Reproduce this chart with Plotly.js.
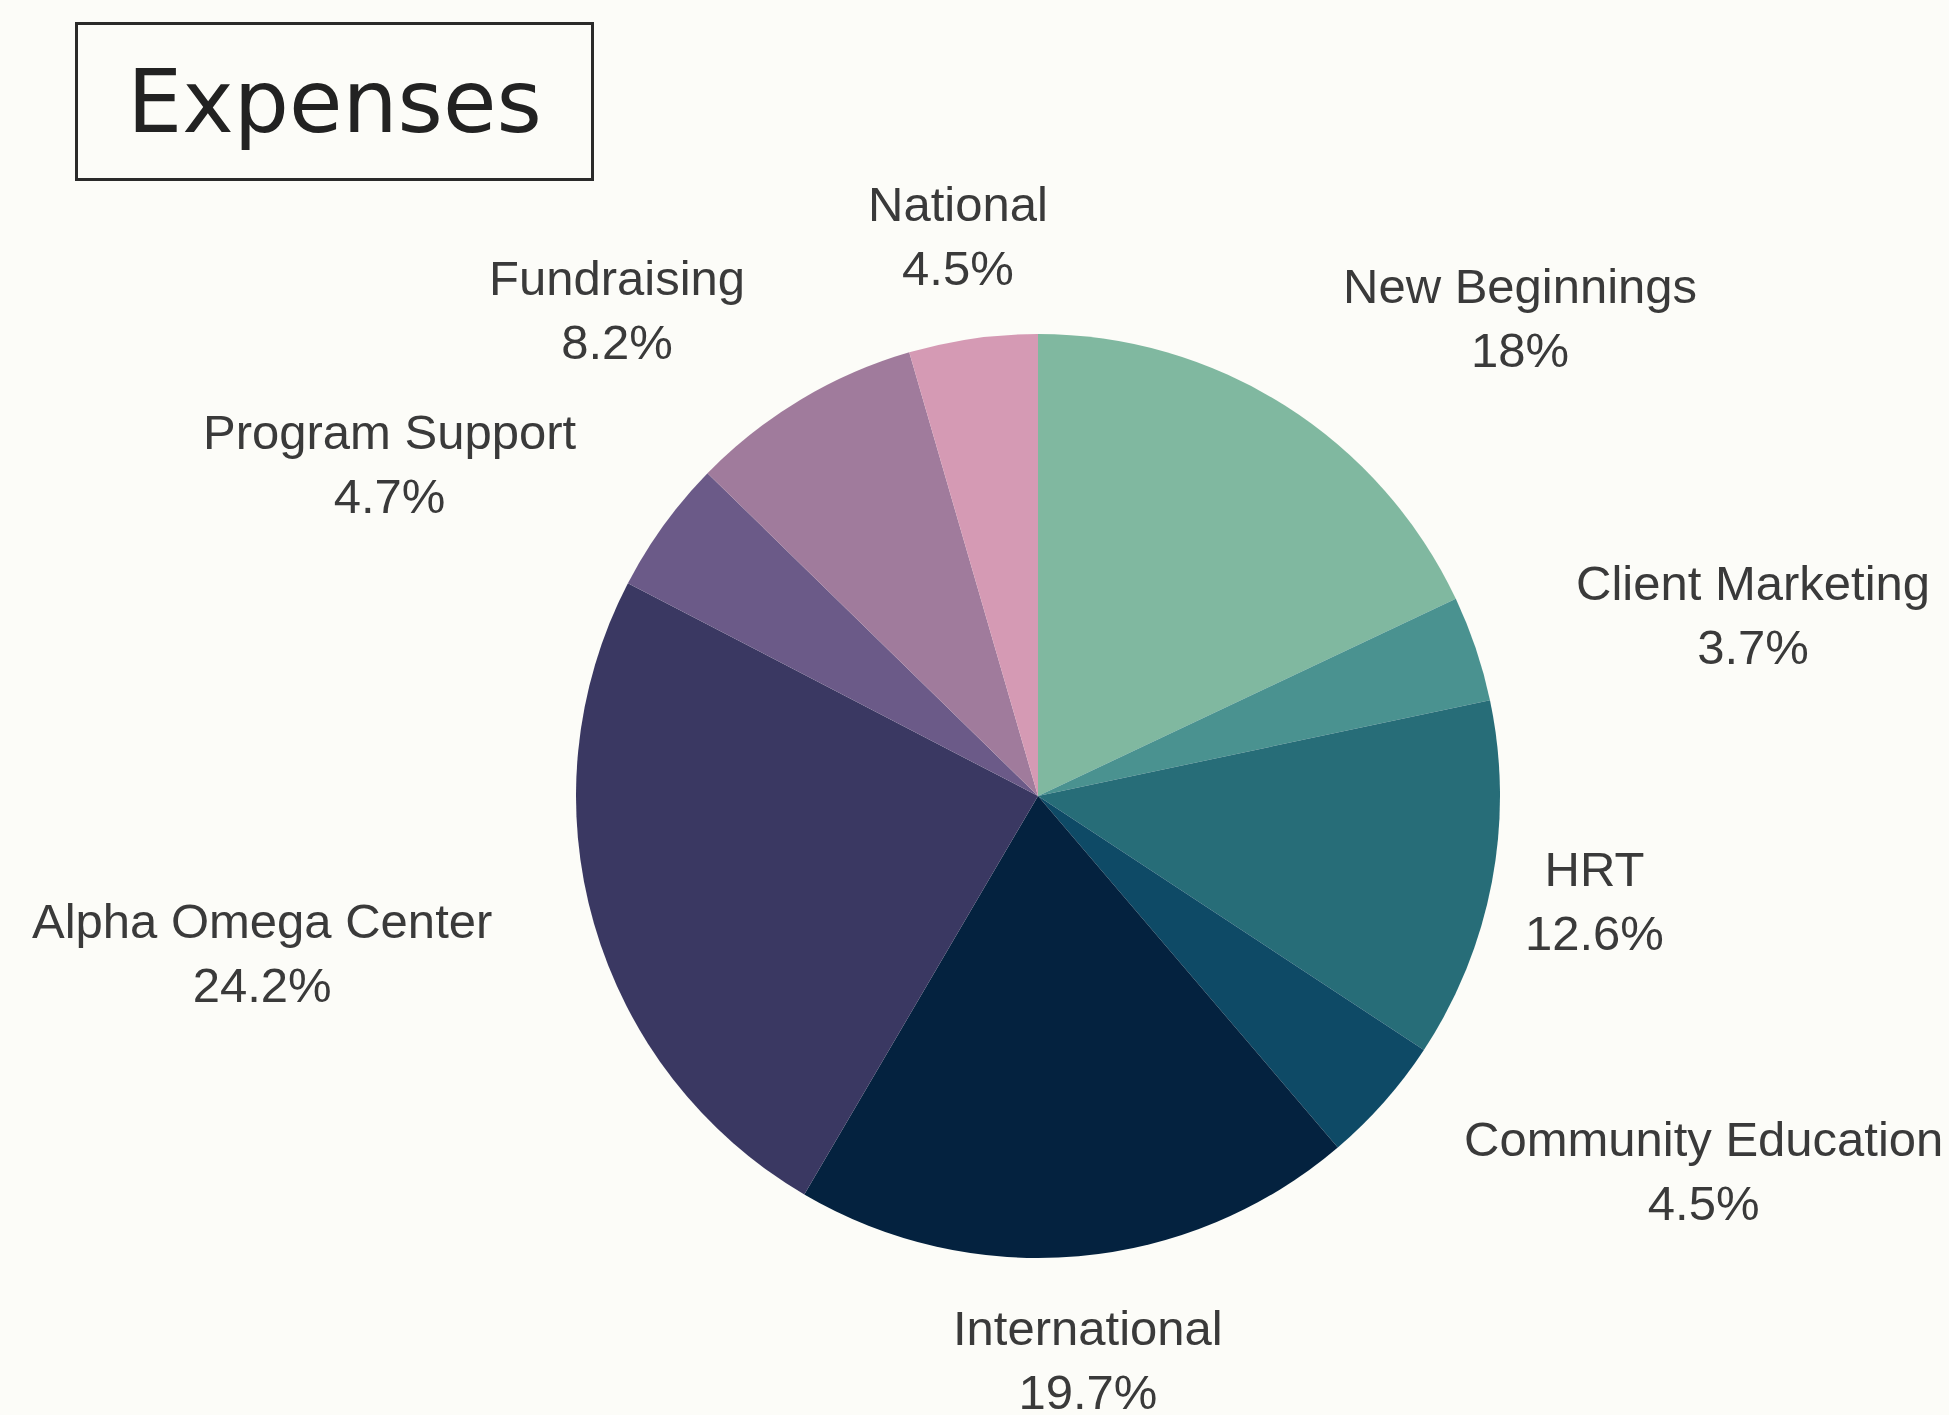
<!DOCTYPE html>
<html>
<head>
<meta charset="utf-8">
<script src="https://cdn.plot.ly/plotly-3.0.1.min.js"></script>
<style>
  html, body { margin: 0; padding: 0; background: #fcfcf8; }
  #chart { width: 1949px; height: 1415px; }
</style>
</head>
<body>
<div id="chart"></div>
<script>
// ---- data ----
const categories = [
  "New Beginnings", "Client Marketing", "HRT", "Community Education",
  "International", "Alpha Omega Center", "Program Support", "Fundraising", "National"
];
const shares = [18, 3.7, 12.6, 4.5, 19.7, 24.2, 4.7, 8.2, 4.5];
const sliceColors = [
  "#80b8a0", "#4a9290", "#276d78", "#0e4a66",
  "#04223f", "#3a3862", "#6b5a88", "#a07b9c", "#d59ab4"
];
const chartTitle = "Expenses";

// ---- geometry (pixels) ----
const W = 1949, H = 1415;
const cx = 1038, cy = 796, R = 462, RA = 566;
const labelFont = { family: "Liberation Sans, Arial, sans-serif", size: 49, color: "#3a3a3a" };

const pieTrace = {
  type: "pie",
  labels: categories,
  values: shares,
  sort: false,
  direction: "clockwise",
  rotation: 0,
  marker: { colors: sliceColors, line: { width: 0 } },
  textinfo: "none",
  hoverinfo: "label+value",
  showlegend: false,
  domain: {
    x: [(cx - R) / W, (cx + R) / W],
    y: [1 - (cy + R) / H, 1 - (cy - R) / H]
  }
};

// outside labels placed on a ring around the pie, at each slice's mid-angle
const ctx = document.createElement("canvas").getContext("2d");
ctx.font = labelFont.size + "px " + labelFont.family;
const total = shares.reduce((a, b) => a + b, 0);
let cum = 0;
const labelAnns = categories.map((name, i) => {
  const v = shares[i];
  const mid = (90 - 360 * (cum + v / 2) / total) * Math.PI / 180;
  cum += v;
  const ax = cx + RA * Math.cos(mid);
  const ay = cy - RA * Math.sin(mid);
  const txt = name + "<br>" + v + "%";
  const bw = Math.max(ctx.measureText(name).width, ctx.measureText(v + "%").width);
  const bh = 2 * 1.3 * labelFont.size;
  // centered box unless it would overlap the pie
  let xanchor = "center";
  const left = ax - bw / 2, right = ax + bw / 2, top = ay - bh / 2, bot = ay + bh / 2;
  const nx = Math.max(left, Math.min(cx, right));
  const ny = Math.max(top, Math.min(cy, bot));
  if (Math.hypot(nx - cx, ny - cy) < R + 8) {
    xanchor = Math.cos(mid) >= 0 ? "left" : "right";
  }
  return {
    text: txt,
    xref: "paper", yref: "paper",
    x: ax / W, y: 1 - ay / H,
    xanchor: xanchor, yanchor: "middle",
    align: "center",
    showarrow: false,
    font: labelFont
  };
});

const layout = {
  width: W,
  height: H,
  margin: { l: 0, r: 0, t: 0, b: 0 },
  paper_bgcolor: "#fcfcf8",
  plot_bgcolor: "#fcfcf8",
  showlegend: false,
  annotations: [{
    text: chartTitle,
    xref: "paper", yref: "paper",
    x: 75 / W, y: 1 - 22 / H,
    xanchor: "left", yanchor: "top",
    showarrow: false,
    width: 513, height: 153,
    align: "center", valign: "middle",
    bordercolor: "#2a2a2a", borderwidth: 3, borderpad: 0,
    font: { family: "DejaVu Sans, sans-serif", size: 87, color: "#222222" }
  }].concat(labelAnns)
};

Plotly.newPlot("chart", [pieTrace], layout, { displayModeBar: false, staticPlot: true });
</script>
</body>
</html>
